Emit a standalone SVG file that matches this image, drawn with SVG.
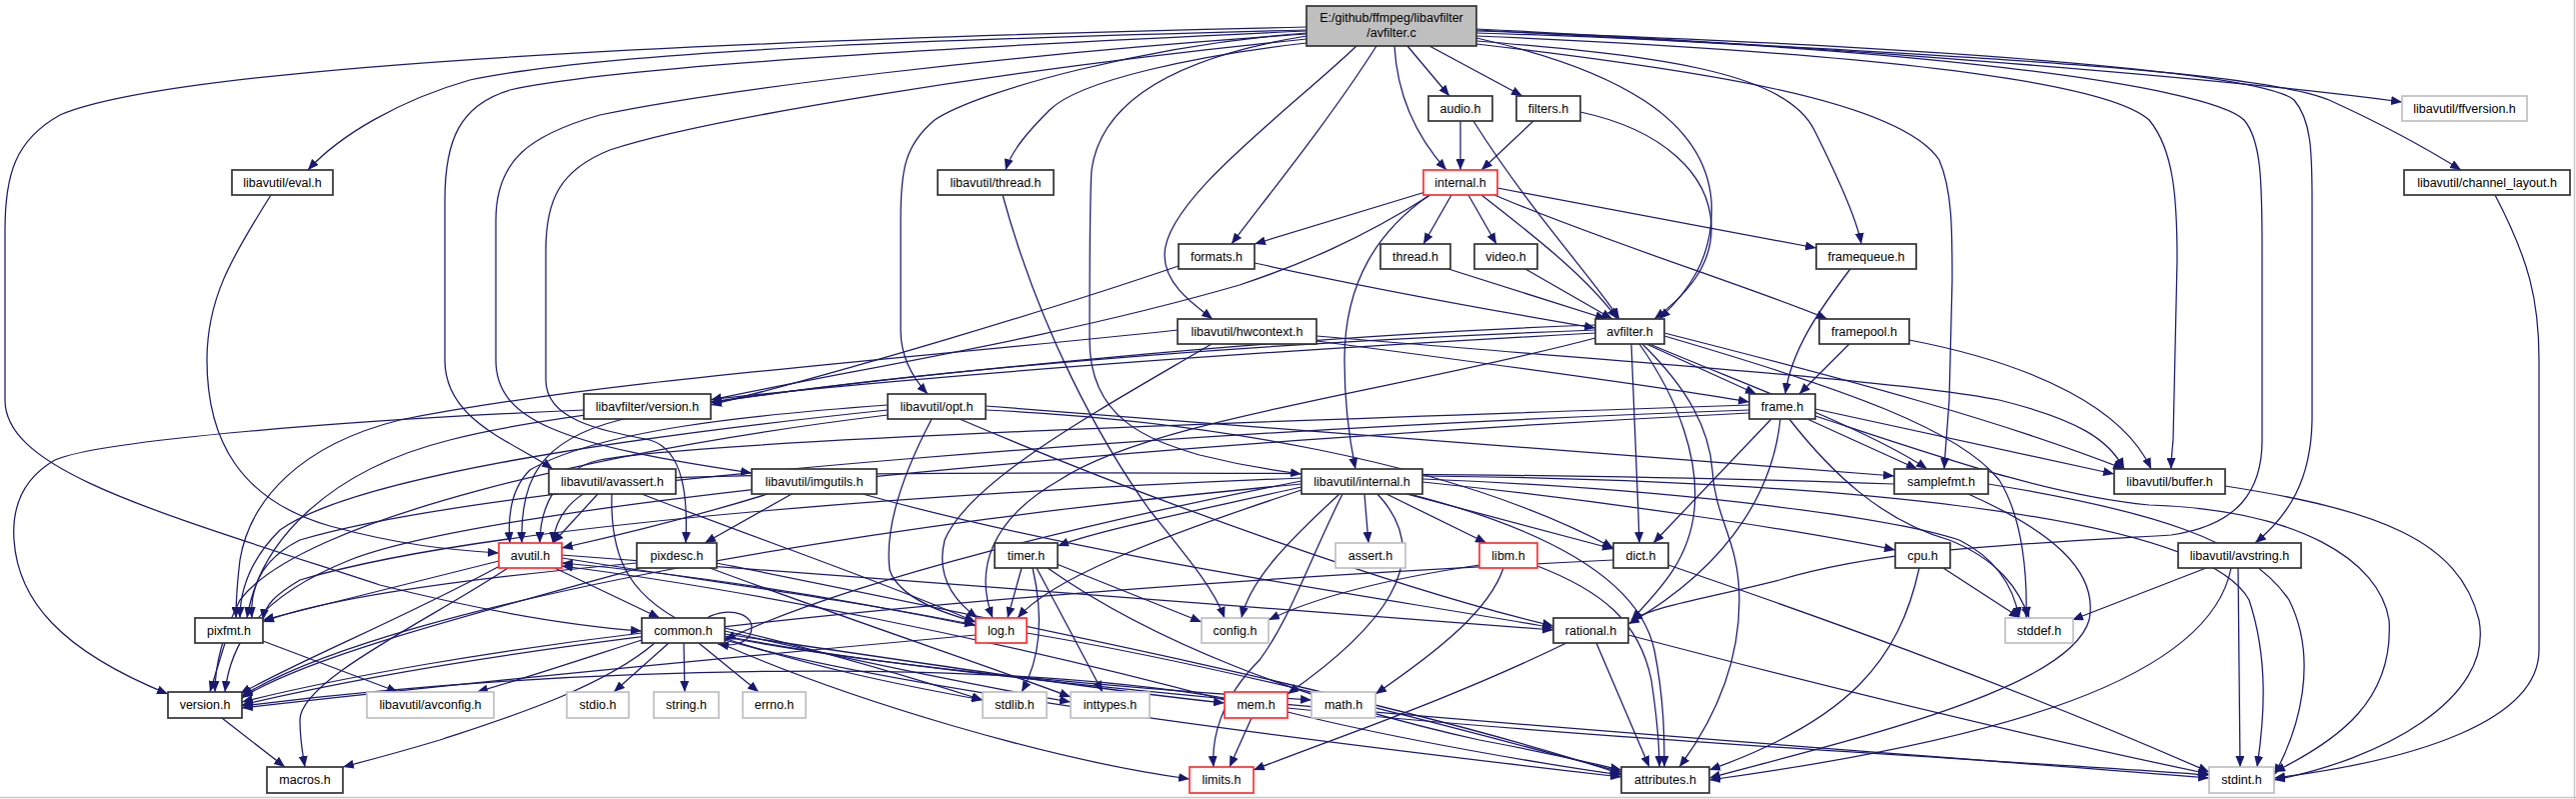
<svg xmlns="http://www.w3.org/2000/svg" width="2577" height="799" viewBox="0 0 2577 799">
<style>
.n rect{fill:#fff;stroke:#333;stroke-width:1.7}
.r rect{fill:#fff;stroke:#ff3030;stroke-width:1.7}
.g rect{fill:#fff;stroke:#c0c0c0;stroke-width:1.7}
.root rect{fill:#bfbfbf;stroke:#333;stroke-width:1.7}
text{font-family:"Liberation Sans",Arial,sans-serif;font-size:12.5px;text-anchor:middle;fill:#000}
#edges path{fill:none;stroke:#191970;stroke-width:1.25;marker-end:url(#ah)}
</style>
<defs>
<marker id="ah" markerUnits="userSpaceOnUse" markerWidth="11" markerHeight="9" refX="11" refY="4.5" orient="auto">
<path d="M0,0 L11,4.5 L0,9 z" fill="#191970"/>
</marker>
</defs>
<rect x="0" y="0" width="2577" height="799" fill="#fff"/>
<line x1="0" y1="797.5" x2="2577" y2="797.5" stroke="#c8c8c8" stroke-width="1.5"/>
<line x1="2575.5" y1="0" x2="2575.5" y2="799" stroke="#c8c8c8" stroke-width="1.5"/>
<g id="edges">
<path d="M1307,30 C1000,38 620,48 470,80 C400,100 340,135 308,170"/>
<path d="M1307,27 C950,35 200,55 60,115 C15,140 5,175 5,230 L5,400 C5,470 150,510 380,585 C520,620 600,628 642,631"/>
<path d="M1307,43 C1200,55 1080,80 1050,110 C1030,130 1012,150 1006,170"/>
<path d="M1307,33 C1150,45 980,90 935,120 C905,145 901,170 901,220 L901,330 C901,360 915,380 928,394"/>
<path d="M1307,36 C1160,60 1100,110 1092,170 C1090,200 1090,250 1090,340 C1090,420 1150,440 1200,455 C1240,465 1270,470 1302,474"/>
<path d="M1307,31 C1000,45 620,65 510,90 C460,105 445,140 445,200 L445,360 C445,420 510,440 553,469"/>
<path d="M1307,34 C1000,55 720,90 600,115 C530,135 496,160 496,220 L496,360 C496,420 560,445 752,473"/>
<path d="M1307,39 C1000,70 700,120 610,150 C560,170 546,200 546,250 L546,380 C546,420 600,430 650,440 C685,450 688,500 686,543"/>
<path d="M1357,46 C1290,110 1165,200 1165,255 C1165,285 1195,305 1213,319"/>
<path d="M1377,46 C1330,120 1265,200 1232,244"/>
<path d="M1395,46 C1398,100 1420,140 1447,170"/>
<path d="M1408,46 L1450,96"/>
<path d="M1430,46 L1523,96"/>
<path d="M1477,38 C1620,70 1705,120 1712,200 C1716,260 1685,295 1660,319"/>
<path d="M1477,41 C1650,55 1785,70 1815,130 C1840,180 1858,220 1862,244"/>
<path d="M1477,44 C1700,70 1900,100 1940,160 C1953,190 1953,230 1953,280 L1950,400 C1948,430 1946,450 1945,469"/>
<path d="M1477,36 C1800,50 2100,75 2150,120 C2175,150 2178,200 2178,260 L2174,440 C2173,450 2172,460 2172,469"/>
<path d="M1477,33 C1900,45 2210,85 2245,120 C2262,140 2263,180 2263,250 L2263,440 C2263,490 2240,525 2172,535 C2000,545 1880,550 1780,580 C1700,600 1660,605 1632,620"/>
<path d="M1477,31 C1900,45 2260,70 2295,100 C2312,120 2313,150 2313,200 L2313,420 C2312,480 2290,515 2256,543"/>
<path d="M1477,29 C1800,45 2200,75 2403,102"/>
<path d="M1477,30 C1950,55 2260,70 2330,100 C2385,125 2430,150 2462,170"/>
<path d="M1461,121 L1461,170"/>
<path d="M1474,121 C1530,210 1595,280 1620,319"/>
<path d="M1534,121 L1482,170"/>
<path d="M1581,112 C1665,130 1710,175 1712,225 C1714,270 1680,300 1655,319"/>
<path d="M1426,192 L1255,244"/>
<path d="M1452,195 L1424,244"/>
<path d="M1469,195 L1497,244"/>
<path d="M1482,195 C1540,240 1590,280 1618,319"/>
<path d="M1498,188 L1817,248"/>
<path d="M1495,195 C1600,240 1760,290 1828,319"/>
<path d="M1431,195 C1360,240 1300,265 1240,285 C1050,340 850,370 711,400"/>
<path d="M1430,195 C1380,230 1345,280 1345,360 C1345,400 1350,440 1356,469"/>
<path d="M1255,263 C1400,295 1520,315 1596,328"/>
<path d="M1179,266 C1050,310 850,370 711,405"/>
<path d="M1449,269 L1607,319"/>
<path d="M1526,269 L1613,319"/>
<path d="M1851,269 C1820,310 1792,350 1786,394"/>
<path d="M1850,344 L1800,394"/>
<path d="M1910,340 C2040,365 2125,410 2152,469"/>
<path d="M1003,195 C1040,330 1100,440 1150,510 C1190,560 1215,590 1225,618"/>
<path d="M271,195 C230,260 207,300 207,360 C207,440 240,500 330,526 C400,545 450,550 499,553"/>
<path d="M2496,195 C2530,260 2540,300 2540,360 L2540,650 C2540,720 2420,760 2275,778"/>
<path d="M584,410 C350,420 100,440 55,460 C20,480 12,510 14,540 C18,600 60,650 168,694"/>
<path d="M1317,336 C1600,360 1900,380 2000,400 C2080,420 2110,440 2125,469"/>
<path d="M1317,341 C1500,365 1650,385 1750,402"/>
<path d="M1212,344 C1100,410 970,480 945,540 C935,580 960,605 978,618"/>
<path d="M1178,330 C900,360 600,380 400,420 C300,445 250,500 240,560 C237,585 236,600 236,618"/>
<path d="M1596,325 C1300,335 900,375 711,402"/>
<path d="M1596,330 C1200,345 800,380 620,420 C540,440 520,480 522,543"/>
<path d="M1596,333 C1100,360 600,400 450,440 C330,470 260,540 247,618"/>
<path d="M1596,338 C1400,390 1150,420 1060,480 C990,520 975,570 993,618"/>
<path d="M1647,344 L1757,394"/>
<path d="M1632,344 C1635,420 1638,480 1640,543"/>
<path d="M1650,344 C1760,390 1870,430 1928,469"/>
<path d="M1665,333 C1850,380 2000,420 2125,469"/>
<path d="M1640,344 C1680,400 1700,460 1695,510 C1690,560 1660,590 1632,620"/>
<path d="M1643,344 C1690,390 1710,430 1713,470 C1716,520 1740,540 1740,600 C1740,680 1700,740 1680,767"/>
<path d="M1665,336 C1850,390 1960,430 2000,480 C2025,520 2028,580 2027,618"/>
<path d="M1750,405 C1300,420 700,440 600,460 C555,470 540,510 540,543"/>
<path d="M1816,409 L2115,474"/>
<path d="M1772,419 L1654,543"/>
<path d="M1781,419 C1775,480 1740,560 1629,624"/>
<path d="M1808,419 L1918,469"/>
<path d="M1750,410 C1200,430 500,480 300,540 C260,560 250,590 252,618"/>
<path d="M1750,413 C1200,440 500,500 350,560 C250,600 230,650 225,692"/>
<path d="M1816,416 C1950,460 2050,495 2150,505 C2300,510 2380,560 2390,620 C2395,700 2340,740 2275,772"/>
<path d="M1790,419 C1830,470 1880,520 1950,540 C2000,560 2020,590 2030,618"/>
<path d="M1895,484 C1500,470 800,470 620,480 C570,490 555,520 553,543"/>
<path d="M1969,494 C2050,530 2100,570 2090,620 C2070,690 1850,740 1710,778"/>
<path d="M1989,484 C2150,510 2250,540 2290,600 C2320,660 2300,730 2275,775"/>
<path d="M2226,486 C2380,510 2460,540 2480,620 C2495,700 2380,760 2275,780"/>
<path d="M932,419 C900,480 885,530 890,570 C900,600 950,615 976,622"/>
<path d="M960,419 C1150,500 1400,590 1554,626"/>
<path d="M986,410 C1200,420 1450,460 1614,548"/>
<path d="M986,406 C1200,420 1500,445 1895,476"/>
<path d="M888,405 C750,415 600,430 530,470 C510,490 508,520 510,543"/>
<path d="M888,410 C600,440 350,480 280,530 C250,560 240,590 240,618"/>
<path d="M888,415 C600,450 300,520 240,600 C220,640 215,670 215,692"/>
<path d="M637,563 C450,580 320,600 263,622"/>
<path d="M640,568 C450,620 300,660 242,698"/>
<path d="M710,568 C850,620 1000,670 1071,697"/>
<path d="M717,563 C1000,620 1400,700 1622,774"/>
<path d="M792,494 L705,543"/>
<path d="M768,494 C700,515 620,535 562,548"/>
<path d="M863,494 C1100,560 1400,600 1554,628"/>
<path d="M598,494 L553,543"/>
<path d="M612,494 C610,560 630,600 700,630 C800,665 900,685 983,700"/>
<path d="M642,494 C760,540 880,580 976,622"/>
<path d="M555,568 L660,618"/>
<path d="M500,566 C400,620 300,660 240,694"/>
<path d="M508,568 C430,620 300,680 300,720 C300,740 303,755 305,767"/>
<path d="M499,561 L263,620"/>
<path d="M562,558 C700,580 850,600 976,625"/>
<path d="M562,555 C900,580 1300,610 1554,630"/>
<path d="M707,618 C730,605 760,615 750,635 C745,645 730,646 718,644"/>
<path d="M669,643 L614,692"/>
<path d="M684,643 L685,692"/>
<path d="M699,643 L759,692"/>
<path d="M642,640 C580,660 520,680 477,692"/>
<path d="M642,633 C500,650 350,675 242,702"/>
<path d="M655,643 C600,690 500,720 440,740 C400,752 370,760 343,767"/>
<path d="M725,628 C820,650 920,680 983,700"/>
<path d="M725,631 C850,660 1000,690 1071,702"/>
<path d="M725,634 C900,660 1100,690 1225,703"/>
<path d="M725,637 C900,670 1150,690 1312,700"/>
<path d="M720,643 C850,700 1050,760 1190,779"/>
<path d="M725,640 C900,690 1300,740 1622,777"/>
<path d="M725,636 C1000,690 1600,730 2210,778"/>
<path d="M976,626 C850,600 700,575 562,563"/>
<path d="M976,635 C700,660 400,690 242,708"/>
<path d="M1027,633 C1250,670 1500,740 1622,772"/>
<path d="M1225,700 C1000,640 750,590 562,566"/>
<path d="M1252,718 L1230,767"/>
<path d="M1288,712 C1400,740 1550,765 1622,775"/>
<path d="M1288,708 C1600,740 2000,760 2210,775"/>
<path d="M1225,698 C1000,660 600,662 242,706"/>
<path d="M1022,568 L1008,618"/>
<path d="M1033,568 C1045,620 1040,660 1022,692"/>
<path d="M1037,568 L1103,692"/>
<path d="M1057,564 L1202,622"/>
<path d="M1048,568 C1150,640 1300,700 1480,740 C1560,755 1600,765 1622,770"/>
<path d="M1302,487 C1200,510 1100,530 1058,546"/>
<path d="M1340,494 C1290,540 1250,580 1242,618"/>
<path d="M1343,494 C1310,560 1290,620 1260,660 C1220,700 1212,740 1214,767"/>
<path d="M1365,494 L1369,543"/>
<path d="M1378,494 C1440,560 1380,630 1288,694"/>
<path d="M1387,494 L1487,543"/>
<path d="M1407,494 L1614,549"/>
<path d="M1410,494 C1550,530 1640,580 1655,650 C1665,700 1665,740 1665,767"/>
<path d="M1423,482 C1600,500 1800,530 1896,550"/>
<path d="M1423,479 C1700,490 1900,520 1960,540 C2000,560 2015,590 2020,618"/>
<path d="M1423,476 C1800,480 2200,510 2250,600 C2270,660 2265,720 2258,767"/>
<path d="M1302,478 C1000,490 500,520 300,580 C275,595 265,605 263,620"/>
<path d="M1302,484 C900,520 400,600 242,696"/>
<path d="M1302,490 C1150,540 1050,580 1018,618"/>
<path d="M1302,481 C1100,520 850,580 725,640"/>
<path d="M1480,565 C1380,580 1310,600 1269,620"/>
<path d="M1504,568 C1490,610 1440,650 1376,694"/>
<path d="M1538,566 C1600,590 1640,620 1652,680 C1658,720 1660,745 1660,767"/>
<path d="M1614,560 C1200,580 600,620 242,705"/>
<path d="M1669,565 C1800,610 2000,680 2210,772"/>
<path d="M1944,568 L2021,618"/>
<path d="M1920,568 C1900,660 1850,720 1710,770"/>
<path d="M2207,568 L2073,620"/>
<path d="M2239,568 L2241,767"/>
<path d="M2232,568 C2210,680 2000,740 1710,780"/>
<path d="M1597,643 L1650,767"/>
<path d="M1567,643 C1450,700 1330,740 1254,770"/>
<path d="M1629,635 C1800,680 2000,730 2210,774"/>
<path d="M225,643 L210,692"/>
<path d="M263,641 L398,692"/>
<path d="M222,718 L285,767"/>
</g>
<g id="node-avfilter_c" class="root"><rect x="1307" y="6" width="170" height="40"/><text x="1392" y="22">E:/github/ffmpeg/libavfilter</text><text x="1392" y="37">/avfilter.c</text></g>
<g id="node-audio_h" class="n"><rect x="1429" y="96" width="64" height="25"/><text x="1461" y="112.5">audio.h</text></g>
<g id="node-filters_h" class="n"><rect x="1517" y="96" width="64" height="25"/><text x="1549" y="112.5">filters.h</text></g>
<g id="node-ffversion_h" class="g"><rect x="2403" y="96" width="125" height="25"/><text x="2465.5" y="112.5">libavutil/ffversion.h</text></g>
<g id="node-eval_h" class="n"><rect x="232" y="170" width="101" height="25"/><text x="282.5" y="186.5">libavutil/eval.h</text></g>
<g id="node-lthread_h" class="n"><rect x="938" y="170" width="116" height="25"/><text x="996" y="186.5">libavutil/thread.h</text></g>
<g id="node-internal_h" class="r"><rect x="1424" y="170" width="74" height="25"/><text x="1461" y="186.5">internal.h</text></g>
<g id="node-channel_layout_h" class="n"><rect x="2405" y="170" width="166" height="25"/><text x="2488" y="186.5">libavutil/channel_layout.h</text></g>
<g id="node-formats_h" class="n"><rect x="1179" y="244" width="76" height="25"/><text x="1217" y="260.5">formats.h</text></g>
<g id="node-thread_h" class="n"><rect x="1381" y="244" width="70" height="25"/><text x="1416" y="260.5">thread.h</text></g>
<g id="node-video_h" class="n"><rect x="1475" y="244" width="63" height="25"/><text x="1506.5" y="260.5">video.h</text></g>
<g id="node-framequeue_h" class="n"><rect x="1817" y="244" width="100" height="25"/><text x="1867" y="260.5">framequeue.h</text></g>
<g id="node-hwcontext_h" class="n"><rect x="1178" y="319" width="139" height="25"/><text x="1247.5" y="335.5">libavutil/hwcontext.h</text></g>
<g id="node-avfilter_h" class="n"><rect x="1596" y="319" width="69" height="25"/><text x="1630.5" y="335.5">avfilter.h</text></g>
<g id="node-framepool_h" class="n"><rect x="1820" y="319" width="90" height="25"/><text x="1865" y="335.5">framepool.h</text></g>
<g id="node-afversion_h" class="n"><rect x="584" y="394" width="127" height="25"/><text x="647.5" y="410.5">libavfilter/version.h</text></g>
<g id="node-opt_h" class="n"><rect x="888" y="394" width="98" height="25"/><text x="937" y="410.5">libavutil/opt.h</text></g>
<g id="node-frame_h" class="n"><rect x="1750" y="394" width="66" height="25"/><text x="1783" y="410.5">frame.h</text></g>
<g id="node-avassert_h" class="n"><rect x="549" y="469" width="127" height="25"/><text x="612.5" y="485.5">libavutil/avassert.h</text></g>
<g id="node-imgutils_h" class="n"><rect x="752" y="469" width="125" height="25"/><text x="814.5" y="485.5">libavutil/imgutils.h</text></g>
<g id="node-linternal_h" class="n"><rect x="1302" y="469" width="121" height="25"/><text x="1362.5" y="485.5">libavutil/internal.h</text></g>
<g id="node-samplefmt_h" class="n"><rect x="1895" y="469" width="94" height="25"/><text x="1942" y="485.5">samplefmt.h</text></g>
<g id="node-buffer_h" class="n"><rect x="2115" y="469" width="111" height="25"/><text x="2170.5" y="485.5">libavutil/buffer.h</text></g>
<g id="node-avutil_h" class="r"><rect x="499" y="543" width="63" height="25"/><text x="530.5" y="559.5">avutil.h</text></g>
<g id="node-pixdesc_h" class="n"><rect x="637" y="543" width="80" height="25"/><text x="677" y="559.5">pixdesc.h</text></g>
<g id="node-timer_h" class="n"><rect x="995" y="543" width="63" height="25"/><text x="1026.5" y="559.5">timer.h</text></g>
<g id="node-assert_h" class="g"><rect x="1336" y="543" width="70" height="25"/><text x="1371" y="559.5">assert.h</text></g>
<g id="node-libm_h" class="r"><rect x="1480" y="543" width="58" height="25"/><text x="1509" y="559.5">libm.h</text></g>
<g id="node-dict_h" class="n"><rect x="1614" y="543" width="55" height="25"/><text x="1641.5" y="559.5">dict.h</text></g>
<g id="node-cpu_h" class="n"><rect x="1896" y="543" width="55" height="25"/><text x="1923.5" y="559.5">cpu.h</text></g>
<g id="node-avstring_h" class="n"><rect x="2179" y="543" width="123" height="25"/><text x="2240.5" y="559.5">libavutil/avstring.h</text></g>
<g id="node-pixfmt_h" class="n"><rect x="195" y="618" width="68" height="25"/><text x="229" y="634.5">pixfmt.h</text></g>
<g id="node-common_h" class="n"><rect x="642" y="618" width="83" height="25"/><text x="683.5" y="634.5">common.h</text></g>
<g id="node-log_h" class="r"><rect x="976" y="618" width="51" height="25"/><text x="1001.5" y="634.5">log.h</text></g>
<g id="node-config_h" class="g"><rect x="1202" y="618" width="67" height="25"/><text x="1235.5" y="634.5">config.h</text></g>
<g id="node-rational_h" class="n"><rect x="1554" y="618" width="75" height="25"/><text x="1591.5" y="634.5">rational.h</text></g>
<g id="node-stddef_h" class="g"><rect x="2006" y="618" width="68" height="25"/><text x="2040" y="634.5">stddef.h</text></g>
<g id="node-version_h" class="n"><rect x="168" y="692" width="74" height="26"/><text x="205" y="709">version.h</text></g>
<g id="node-avconfig_h" class="g"><rect x="367" y="692" width="127" height="26"/><text x="430.5" y="709">libavutil/avconfig.h</text></g>
<g id="node-stdio_h" class="g"><rect x="567" y="692" width="62" height="26"/><text x="598" y="709">stdio.h</text></g>
<g id="node-string_h" class="g"><rect x="654" y="692" width="65" height="26"/><text x="686.5" y="709">string.h</text></g>
<g id="node-errno_h" class="g"><rect x="743" y="692" width="63" height="26"/><text x="774.5" y="709">errno.h</text></g>
<g id="node-stdlib_h" class="g"><rect x="983" y="692" width="64" height="26"/><text x="1015" y="709">stdlib.h</text></g>
<g id="node-inttypes_h" class="g"><rect x="1071" y="692" width="79" height="26"/><text x="1110.5" y="709">inttypes.h</text></g>
<g id="node-mem_h" class="r"><rect x="1225" y="692" width="63" height="26"/><text x="1256.5" y="709">mem.h</text></g>
<g id="node-math_h" class="g"><rect x="1312" y="692" width="64" height="26"/><text x="1344" y="709">math.h</text></g>
<g id="node-macros_h" class="n"><rect x="267" y="767" width="76" height="26"/><text x="305" y="784">macros.h</text></g>
<g id="node-limits_h" class="r"><rect x="1190" y="767" width="64" height="26"/><text x="1222" y="784">limits.h</text></g>
<g id="node-attributes_h" class="n"><rect x="1622" y="767" width="88" height="26"/><text x="1666" y="784">attributes.h</text></g>
<g id="node-stdint_h" class="g"><rect x="2210" y="767" width="65" height="26"/><text x="2242.5" y="784">stdint.h</text></g>
</svg>
